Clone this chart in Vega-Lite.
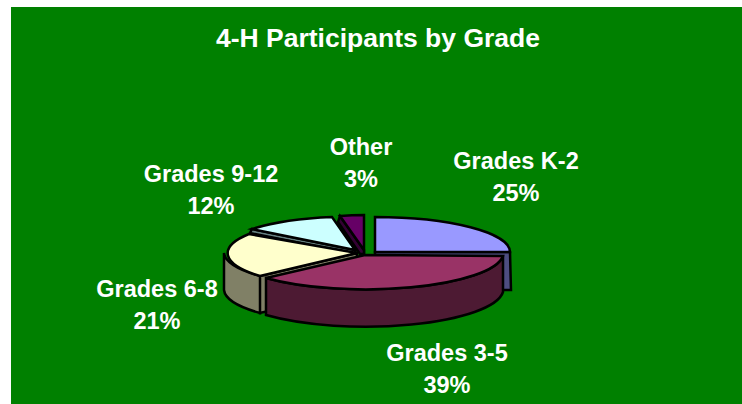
{"$schema":"https://vega.github.io/schema/vega-lite/v6.json","width":731,"height":397,"autosize":"none","padding":{"left":11,"top":7,"right":0,"bottom":0},"background":"white","view":{"fill":"#008000","stroke":null},"title":{"text":"4-H Participants by Grade","font":"Liberation Sans","fontSize":26.5,"fontWeight":"bold","color":"white","anchor":"middle","baseline":"alphabetic","offset":-66,"dx":1.5},"data":{"values":[{"slice":"Grades 9-12","pct":12,"lx":211,"ly":175},{"slice":"Other","pct":3,"lx":361,"ly":148},{"slice":"Grades K-2","pct":25,"lx":516,"ly":162},{"slice":"Grades 6-8","pct":21,"lx":157,"ly":290},{"slice":"Grades 3-5","pct":39,"lx":447,"ly":354}]},"layer":[{"mark":{"type":"point","filled":true,"stroke":"black","strokeWidth":2.5,"opacity":1,"size":4},"encoding":{"x":{"datum":365,"type":"quantitative","scale":{"domain":[11,742],"nice":false,"zero":false},"axis":null},"y":{"datum":255,"type":"quantitative","scale":{"domain":[404,7],"nice":false,"zero":false},"axis":null},"shape":{"field":"slice","type":"nominal","legend":null,"scale":{"domain":["Grades K-2","Grades 3-5","Grades 6-8","Grades 9-12","Other"],"range":["M10,-3L145,-3L146,35L10,35Z","M138,1L138,37A138,38 0 0 1 -99,60L-99,23A138,37 0 0 0 138,1Z","M-141,-2L-141,35A132,35 0 0 0 -105,58L-105,21A132,35 0 0 1 -141,-2ZM-105,21L-8,-2L-8,35L-105,58Z","M-113,-26L-10,-5L-10,-1L-115,-22Z","M-25,-39L-27,-33L-5,-1L-1,-1L-1,-5Z"]}},"fill":{"field":"slice","type":"nominal","legend":null,"scale":{"domain":["Grades K-2","Grades 3-5","Grades 6-8","Grades 9-12","Other"],"range":["#4d4d80","#4d1a33","#808066","#668080","#330033"]}}}},{"mark":{"type":"point","filled":true,"stroke":"black","strokeWidth":2.5,"opacity":1,"size":4},"encoding":{"x":{"datum":365,"type":"quantitative","scale":{"domain":[11,742],"nice":false,"zero":false},"axis":null},"y":{"datum":255,"type":"quantitative","scale":{"domain":[404,7],"nice":false,"zero":false},"axis":null},"shape":{"field":"slice","type":"nominal","legend":null,"scale":{"domain":["Grades K-2","Grades 3-5","Grades 6-8","Grades 9-12","Other"],"range":["M10,-3L10,-38A135,35 0 0 1 145,-3Z","M0,0L138,1A138,37 0 0 1 -99,23Z","M-8,-2L-105,21A132,35 0 0 1 -116,-21Z","M-10,-5L-113,-26A132,35 0 0 1 -33,-38Z","M-1,-5L-25,-39A132,35 0 0 1 -1,-40Z"]}},"fill":{"field":"slice","type":"nominal","legend":null,"scale":{"domain":["Grades K-2","Grades 3-5","Grades 6-8","Grades 9-12","Other"],"range":["#9999ff","#993366","#ffffcc","#ccffff","#660066"]}}}},{"transform":[{"calculate":"datum.slice + '\\n' + datum.pct + '%'","as":"label"}],"mark":{"type":"text","font":"Liberation Sans","fontSize":23.5,"fontWeight":"bold","color":"white","lineBreak":"\n","lineHeight":31.5,"align":"center","baseline":"middle"},"encoding":{"x":{"field":"lx","type":"quantitative","scale":{"domain":[11,742],"nice":false,"zero":false},"axis":null},"y":{"field":"ly","type":"quantitative","scale":{"domain":[404,7],"nice":false,"zero":false},"axis":null},"text":{"field":"label","type":"nominal"}}}],"resolve":{"scale":{"shape":"independent","fill":"independent"}}}
